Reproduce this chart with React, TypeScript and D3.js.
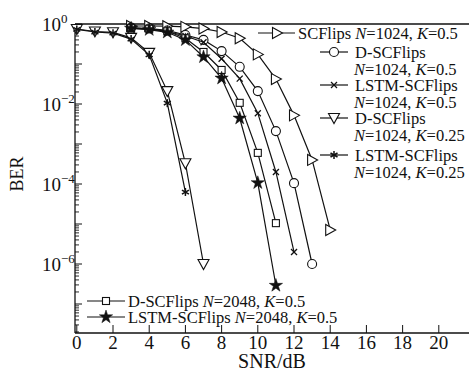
import React from "react";
import * as d3 from "d3";

// SNR (dB) values per series
const snrK025D = [0, 1, 2, 3, 4, 5, 6, 7];
const snrK025L = [0, 1, 2, 3, 4, 5, 6];
const snrSC = [3, 4, 5, 6, 7, 8, 9, 10, 11, 12, 13, 14];
const snrD1024 = [3, 4, 5, 6, 7, 8, 9, 10, 11, 12, 13];
const snrL1024 = [3, 4, 5, 6, 7, 8, 9, 10, 11, 12];
const snrD2048 = [3, 4, 5, 6, 7, 8, 9, 10, 11];
const snrL2048 = [3, 4, 5, 6, 7, 8, 9, 10, 11];

// BER values
const berSC = [0.89, 0.89, 0.88, 0.85, 0.77, 0.63, 0.44, 0.174, 0.042, 0.0052, 4.0e-4, 7.1e-6];
const berD1024 = [0.81, 0.77, 0.69, 0.53, 0.4, 0.21, 0.085, 0.021, 2.1e-3, 1.05e-4, 1.0e-6];
const berL1024 = [0.79, 0.74, 0.65, 0.5, 0.35, 0.135, 0.043, 5.9e-3, 2.0e-4, 2.0e-6];
const berDK025 = [0.75, 0.65, 0.62, 0.45, 0.19, 0.021, 3.3e-4, 1.0e-6];
const berLK025 = [0.73, 0.63, 0.59, 0.42, 0.17, 0.0105, 6.3e-5];
const berD2048 = [0.79, 0.76, 0.66, 0.44, 0.2, 0.071, 0.0107, 6.0e-4, 1.05e-5];
const berL2048 = [0.78, 0.72, 0.62, 0.4, 0.15, 0.044, 4.4e-3, 1.07e-4, 2.9e-7];

const xTicks = [0, 2, 4, 6, 8, 10, 12, 14, 16, 18, 20];
const yMajor = [0, -2, -4, -6];

type Mk = "tri-right" | "circle" | "x" | "tri-down" | "asterisk" | "square" | "star";

const series: { x: number[]; y: number[]; mk: Mk }[] = [
  { x: snrSC, y: berSC, mk: "tri-right" },
  { x: snrD1024, y: berD1024, mk: "circle" },
  { x: snrL1024, y: berL1024, mk: "x" },
  { x: snrK025D, y: berDK025, mk: "tri-down" },
  { x: snrK025L, y: berLK025, mk: "asterisk" },
  { x: snrD2048, y: berD2048, mk: "square" },
  { x: snrL2048, y: berL2048, mk: "star" },
];

const W = 469;
const H = 374;
const left = 75;
const top = 24;
const bottom = 333;

const xScale = d3.scaleLinear().domain([-0.1, 22]).range([left, left + 22.1 * 18.1]);
const yScale = d3.scaleLog().domain([Math.pow(10, -7.725), 1]).range([bottom, top]);

const FONT = "'Liberation Serif', 'DejaVu Serif', serif";

function Marker({ mk, cx, cy }: { mk: Mk; cx: number; cy: number }) {
  const s = { stroke: "#111", strokeWidth: 1.1, fill: "#fff" } as const;
  switch (mk) {
    case "tri-right":
      return <polygon points={`${cx - 4.5},${cy - 5.5} ${cx - 4.5},${cy + 5.5} ${cx + 5.5},${cy}`} {...s} />;
    case "tri-down":
      return <polygon points={`${cx - 5.5},${cy - 4.5} ${cx + 5.5},${cy - 4.5} ${cx},${cy + 5.5}`} {...s} />;
    case "circle":
      return <circle cx={cx} cy={cy} r={4.5} {...s} />;
    case "square":
      return <rect x={cx - 3.5} y={cy - 3.5} width={7} height={7} {...s} />;
    case "x":
      return (
        <g stroke="#111" strokeWidth={1.3}>
          <line x1={cx - 3} y1={cy - 3} x2={cx + 3} y2={cy + 3} />
          <line x1={cx - 3} y1={cy + 3} x2={cx + 3} y2={cy - 3} />
        </g>
      );
    case "asterisk":
      return (
        <g stroke="#111" strokeWidth={1.5}>
          <line x1={cx} y1={cy - 4} x2={cx} y2={cy + 4} />
          <line x1={cx - 3.5} y1={cy - 2} x2={cx + 3.5} y2={cy + 2} />
          <line x1={cx - 3.5} y1={cy + 2} x2={cx + 3.5} y2={cy - 2} />
        </g>
      );
    case "star": {
      const p = d3.symbol().type(d3.symbolStar).size(55)()!;
      return <path d={p} transform={`translate(${cx},${cy})`} fill="#111" stroke="#111" strokeWidth={0.5} />;
    }
  }
}

function Sup({ x, y, base, exp, anchorEnd }: { x: number; y: number; base: string; exp: string; anchorEnd?: boolean }) {
  return (
    <text x={x} y={y} fontFamily={FONT} fontSize={19} textAnchor={anchorEnd ? "end" : "start"} fill="#111">
      {base}
      <tspan fontSize={13} dy={-8}>{exp}</tspan>
    </text>
  );
}

function LegendLabel({ x, y, pre, n, k }: { x: number; y: number; pre: string; n: string; k: string }) {
  return (
    <text x={x} y={y} fontFamily={FONT} fontSize={16.5} fill="#111">
      {pre}
      <tspan fontStyle="italic">N</tspan>={n}, <tspan fontStyle="italic">K</tspan>={k}
    </text>
  );
}

export default function App() {
  const line = d3
    .line<[number, number]>()
    .x((d) => xScale(d[0]))
    .y((d) => yScale(d[1]));

  const minorTicks: number[] = [];
  for (let e = -8; e < 0; e++) {
    for (let m = 2; m <= 9; m++) {
      const v = m * Math.pow(10, e);
      if (v >= yScale.domain()[0] && v < 1) minorTicks.push(v);
    }
  }
  const majorAll = [-7, -6, -5, -4, -3, -2, -1, 0].map((e) => Math.pow(10, e));

  const leg1: { mk: Mk; l1: string; n: string; k: string; y: number; y2?: number }[] = [
    { mk: "circle", l1: "D-SCFlips", n: "1024", k: "0.5", y: 52, y2: 69 },
    { mk: "x", l1: "LSTM-SCFlips", n: "1024", k: "0.5", y: 85, y2: 102 },
    { mk: "tri-down", l1: "D-SCFlips", n: "1024", k: "0.25", y: 118, y2: 135 },
    { mk: "asterisk", l1: "LSTM-SCFlips", n: "1024", k: "0.25", y: 155, y2: 172 },
  ];

  return (
    <svg width={W} height={H} style={{ position: "absolute", left: 0, top: 0, background: "#fff" }}>
      <rect x={0} y={0} width={W} height={H} fill="#fff" />
      {/* axes frame */}
      <line x1={left} y1={top} x2={W} y2={top} stroke="#111" strokeWidth={1.3} />
      <line x1={left} y1={top} x2={left} y2={bottom} stroke="#111" strokeWidth={1.3} />
      <line x1={left} y1={bottom} x2={W} y2={bottom} stroke="#111" strokeWidth={1.3} />

      {/* y ticks */}
      {minorTicks.map((v, i) => (
        <line key={"mn" + i} x1={left} x2={left + 4} y1={yScale(v)} y2={yScale(v)} stroke="#111" strokeWidth={0.9} />
      ))}
      {majorAll.map((v, i) => (
        <line key={"mj" + i} x1={left} x2={left + 7} y1={yScale(v)} y2={yScale(v)} stroke="#111" strokeWidth={1} />
      ))}
      {yMajor.map((e) => (
        <Sup key={"yl" + e} x={42} y={yScale(Math.pow(10, e)) + 7} base="10" exp={e === 0 ? "0" : "\u2212" + Math.abs(e)} />
      ))}

      {/* x ticks */}
      {xTicks.map((t) => (
        <g key={"xt" + t}>
          <line x1={xScale(t)} x2={xScale(t)} y1={bottom} y2={bottom - 8} stroke="#111" strokeWidth={1} />
          <text x={xScale(t)} y={bottom + 16} textAnchor="middle" fontFamily={FONT} fontSize={19} fill="#111">
            {t}
          </text>
        </g>
      ))}

      {/* axis labels */}
      <text x={272} y={368} textAnchor="middle" fontFamily={FONT} fontSize={20} fill="#111">
        SNR/dB
      </text>
      <text
        transform={`translate(23,174) rotate(-90)`}
        textAnchor="middle"
        fontFamily={FONT}
        fontSize={18}
        fill="#111"
      >
        BER
      </text>

      {/* curves */}
      {series.map((s, i) => {
        const pts = s.x.map((x, j) => [x, s.y[j]] as [number, number]);
        return (
          <g key={"s" + i}>
            <path d={line(pts)!} fill="none" stroke="#111" strokeWidth={1.2} />
            {pts.map((p, j) => (
              <Marker key={j} mk={s.mk} cx={xScale(p[0])} cy={yScale(p[1])} />
            ))}
          </g>
        );
      })}

      {/* legend 1 */}
      <g>
        <line x1={258} x2={295} y1={33} y2={33} stroke="#111" strokeWidth={1.2} />
        <Marker mk="tri-right" cx={277} cy={33} />
        <LegendLabel x={298} y={39} pre="SCFlips " n="1024" k="0.5" />
        {leg1.map((e, i) => (
          <g key={"l1" + i}>
            <line x1={320} x2={348} y1={e.y} y2={e.y} stroke="#111" strokeWidth={1.2} />
            <Marker mk={e.mk} cx={334} cy={e.y} />
            <text x={355} y={e.y + 6} fontFamily={FONT} fontSize={16.5} fill="#111">
              {e.l1}
            </text>
            <LegendLabel x={354} y={e.y2! + 6} pre="" n={e.n} k={e.k} />
          </g>
        ))}
      </g>

      {/* legend 2 */}
      <g>
        <line x1={87} x2={125} y1={301} y2={301} stroke="#111" strokeWidth={1.2} />
        <Marker mk="square" cx={106} cy={301} />
        <LegendLabel x={128} y={307} pre="D-SCFlips " n="2048" k="0.5" />
        <line x1={87} x2={125} y1={317} y2={317} stroke="#111" strokeWidth={1.2} />
        <Marker mk="star" cx={106} cy={317} />
        <LegendLabel x={128} y={323} pre="LSTM-SCFlips " n="2048" k="0.5" />
      </g>
    </svg>
  );
}
